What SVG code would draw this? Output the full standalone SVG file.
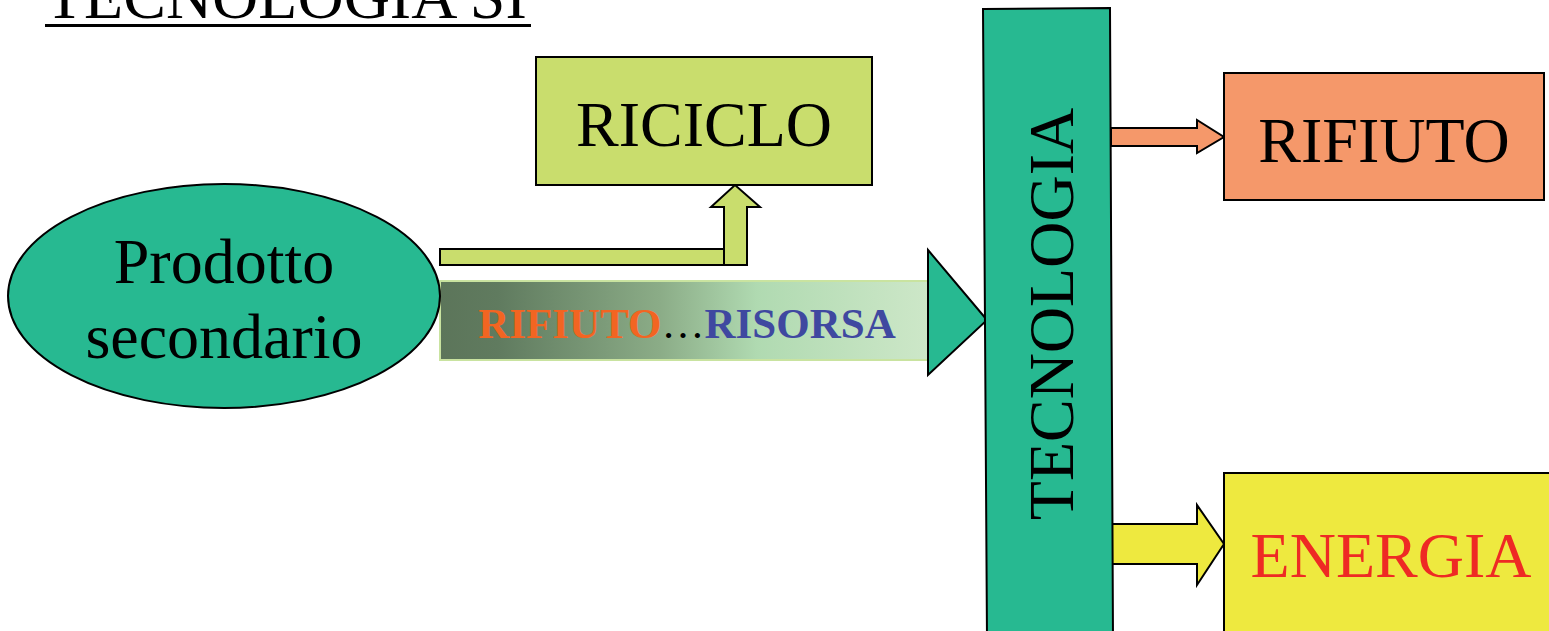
<svg xmlns="http://www.w3.org/2000/svg" width="1549" height="631" viewBox="0 0 1549 631">
<style>
.t{font-family:"Liberation Serif","Times New Roman",serif;font-size:64px;fill:#000}
.s{stroke:#000;stroke-width:2}
</style>
<defs>
<linearGradient id="g" x1="0" y1="0" x2="1" y2="0">
<stop offset="0" stop-color="#5C755A"/>
<stop offset="0.12" stop-color="#607B5F"/>
<stop offset="0.45" stop-color="#8BAC87"/>
<stop offset="0.65" stop-color="#B0DAB1"/>
<stop offset="1" stop-color="#CDE7C8"/>
</linearGradient>
</defs>
<rect width="1549" height="631" fill="#fff"/>
<g id="title">
<text class="t" x="45" y="18">TECNOLOGIA SI</text>
<rect x="45" y="24" width="486" height="3" fill="#000"/>
</g>
<g id="connectors">
<path class="s" d="M440,249 H724 V207 H711 L735,185 L760,207 H747 V265 H440 Z" fill="#C9DD6D"/>
<path class="s" d="M724,265 V249" fill="none"/>
<rect x="440" y="281" width="488" height="79" fill="url(#g)" stroke="#C9E3A0" stroke-width="2"/>
<text x="687" y="338" text-anchor="middle" style="font-family:'Liberation Serif',serif;font-size:43px"><tspan fill="#F26522" font-weight="bold">RIFIUTO</tspan><tspan fill="#000">…</tspan><tspan fill="#3F48A0" font-weight="bold">RISORSA</tspan></text>
<path class="s" d="M928,250 L987,320 L928,375 Z" fill="#27B991"/>
<path class="s" d="M1111,128 H1197 V120 L1224,137 L1197,153 V146 H1111 Z" fill="#F5986A"/>
<path class="s" d="M1112,524 H1197 V505 L1224,544 L1197,585 V564 H1112 Z" fill="#EEE93F"/>
</g>
<g id="prodotto">
<ellipse cx="224" cy="296" rx="216" ry="112" fill="#27B991" class="s"/>
<text class="t" x="224" y="283" text-anchor="middle">Prodotto</text>
<text class="t" x="224" y="358" text-anchor="middle">secondario</text>
</g>
<g id="riciclo">
<rect x="536" y="57" width="336" height="128" fill="#C9DD6D" class="s"/>
<text class="t" x="704" y="146" text-anchor="middle">RICICLO</text>
</g>
<g id="tecnologia">
<path class="s" d="M983,9 L1110,8 L1113,640 L987,640 Z" fill="#27B991"/>
<text class="t" transform="translate(1073,314) rotate(-90)" text-anchor="middle">TECNOLOGIA</text>
</g>
<g id="rifiuto">
<rect x="1224" y="73" width="320" height="127" fill="#F5986A" class="s"/>
<text class="t" x="1384" y="162" text-anchor="middle">RIFIUTO</text>
</g>
<g id="energia">
<rect x="1224" y="473" width="340" height="170" fill="#EEE93F" class="s"/>
<text class="t" x="1391" y="577" text-anchor="middle" style="fill:#EE2A24">ENERGIA</text>
</g>
</svg>
